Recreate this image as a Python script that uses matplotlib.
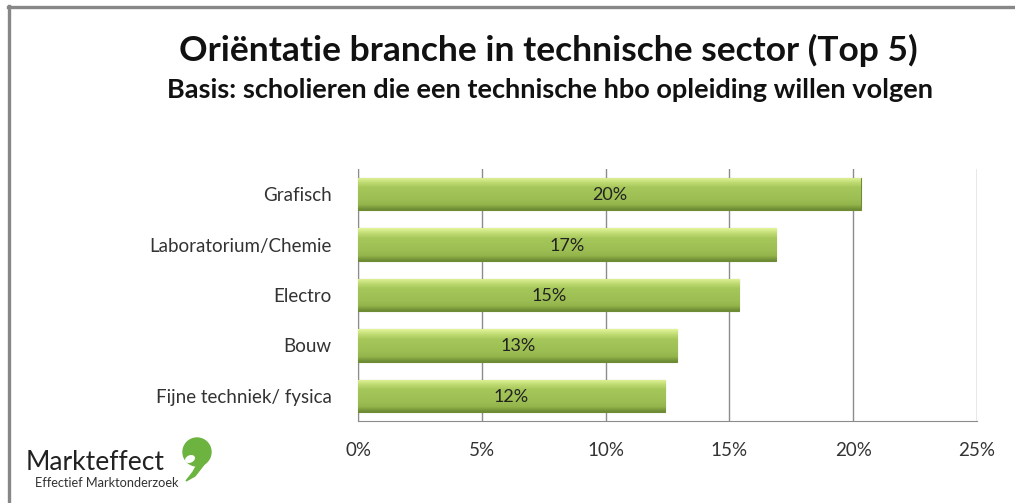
import matplotlib
matplotlib.use("Agg")
import matplotlib.pyplot as plt
import numpy as np
from matplotlib.lines import Line2D
from matplotlib.patches import Circle, Ellipse, Polygon

# Data
categories = ["Grafisch", "Laboratorium/Chemie", "Electro", "Bouw", "Fijne techniek/ fysica"]
values = [20.3, 16.9, 15.4, 12.9, 12.4]
xticks = [0, 5, 10, 15, 20, 25]

W, H = 1015, 503
plt.rcParams['font.family'] = ['Lato', 'DejaVu Sans']


def fx(x):
    return x / W


def fy(y):
    return 1 - y / H


fig = plt.figure(figsize=(W / 100, H / 100), dpi=100)

# outer frame (cut off at right and bottom)
fig.add_artist(Line2D([fx(8.5), fx(8.5)], [fy(6), fy(503)], color='#878787', lw=2.4))
fig.add_artist(Line2D([fx(7.5), fx(1015)], [fy(7), fy(7)], color='#878787', lw=2.4))

ax = fig.add_axes([fx(358), fy(421), fx(977) - fx(358), fy(169) - fy(421)])

y = np.arange(len(categories))
bars = ax.barh(y, values, height=0.64, color='#9bbb59', edgecolor='#6e8b35', linewidth=0.8, zorder=3)

# gradient shading on the bars
grad = np.linspace(0, 1, 40).reshape(-1, 1)
cmap = matplotlib.colors.LinearSegmentedColormap.from_list(
    'g', [(0.0, '#e2f49a'), (0.12, '#c6e07a'), (0.3, '#a6c75a'), (0.7, '#9bbd52'),
          (0.85, '#93b44b'), (1.0, '#6c8a33')])
for b in bars:
    x0, y0 = b.get_x(), b.get_y()
    w, h = b.get_width(), b.get_height()
    im = ax.imshow(grad, extent=(x0, x0 + w, y0 + h, y0), aspect='auto', cmap=cmap,
                   zorder=3.5, interpolation='bilinear')
    im.set_clip_path(b)
    ax.text(x0 + w / 2, y0 + h / 2 + 0.02, f"{w:.0f}%", ha='center', va='center',
            fontsize=13, color='#222222', zorder=5)

ax.set_xlim(0, 25)
ax.set_ylim(len(categories) - 0.5, -0.5)
ax.set_xticks(xticks)
ax.set_xticklabels([f"{t}%" for t in xticks], fontsize=13.5, color='#333333')
ax.set_yticks(y)
ax.set_yticklabels(categories, fontsize=13.5, color='#333333')
ax.tick_params(axis='x', length=0, pad=15)
ax.tick_params(axis='y', length=0, pad=19)
ax.grid(axis='x', color='#8c8c8c', lw=1)
ax.set_axisbelow(True)
for s in ['top', 'right']:
    ax.spines[s].set_visible(False)
ax.spines['left'].set_color('#8c8c8c')
ax.spines['bottom'].set_color('#8c8c8c')

# titles
fig.text(fx(548), fy(50), "Oriëntatie branche in technische sector (Top 5)",
         ha='center', va='center', fontsize=25.5, fontweight='bold', color='#111111')
fig.text(fx(550), fy(90), "Basis: scholieren die een technische hbo opleiding willen volgen",
         ha='center', va='center', fontsize=19.5, fontweight='bold', color='#111111')

# logo
fig.text(fx(26), fy(462), "Markteffect", ha='left', va='center', fontsize=19, color='#222222')
fig.text(fx(35), fy(483), "Effectief Marktonderzoek", ha='left', va='center', fontsize=9.2, color='#333333')
lax = fig.add_axes([fx(176), fy(488), fx(218) - fx(176), fy(436) - fy(488)])
lax.set_xlim(176, 218)
lax.set_ylim(488, 436)
lax.set_aspect('equal')
lax.axis('off')
lax.add_patch(Circle((197, 452), 14, color='#6cb33f'))
lax.add_patch(Polygon([[198, 463], [209, 458], [195, 476], [186, 481], [193, 472]],
                      closed=True, color='#6cb33f'))
lax.add_patch(Ellipse((190, 459), 9, 6, angle=-25, color='white'))

fig.savefig("out.png", dpi=100)
